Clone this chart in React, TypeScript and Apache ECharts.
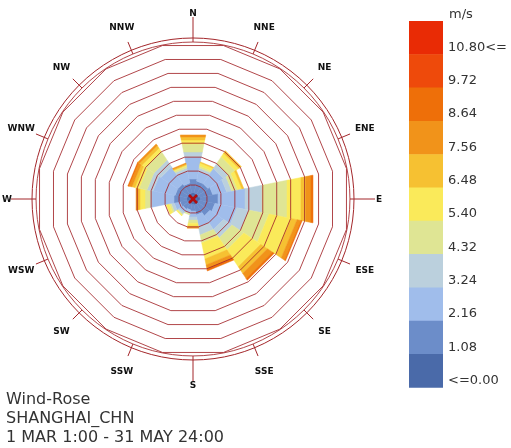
import React, { useEffect, useRef } from "react";
import * as echarts from "echarts";

const directions = ["N", "NNE", "NE", "ENE", "E", "ESE", "SE", "SSE", "S", "SSW", "SW", "WSW", "W", "WNW", "NW", "NNW"];
const speedLabels = ["<=0.00", "1.08", "2.16", "3.24", "4.32", "5.40", "6.48", "7.56", "8.64", "9.72", "10.80<="];
const speedColors = ["#4a6aa9", "#6c8dc9", "#a0bdeb", "#bbd0dd", "#dfe594", "#faea5a", "#f6c132", "#f1931a", "#ee6f09", "#ee4a0b", "#e92b05"];
const unitLabel = "m/s";
const titleLines = ["Wind-Rose", "SHANGHAI_CHN", "1 MAR 1:00 - 31 MAY 24:00"];

// frequency (%) of each speed bin, per direction N..NNW
const bin0 = [0.43, 0.43, 0.43, 0.43, 0.5, 0.43, 0.43, 0.43, 0.36, 0.36, 0.36, 0.36, 0.43, 0.43, 0.43, 0.43];
const bin1 = [1.0, 0.86, 0.86, 1.0, 1.29, 1.15, 1.0, 0.72, 0.5, 0.43, 0.5, 0.57, 0.93, 0.86, 0.86, 0.72];
const bin2 = [1.58, 0.72, 1.29, 1.0, 1.94, 1.58, 1.15, 0.86, 0.43, 0.22, 0.29, 0.43, 1.58, 1.58, 1.43, 0.86];
const bin3 = [0.36, 0.22, 0.43, 0.36, 1.22, 0.86, 0.72, 0.57, 0.22, 0.07, 0.14, 0.22, 0.14, 0.43, 0.57, 0.22];
const bin4 = [0.57, 0.14, 0.57, 0.43, 1.79, 1.43, 1.0, 0.57, 0.22, 0.07, 0.07, 0.14, 0.36, 0.57, 0.72, 0.14];
const bin5 = [0.29, 0.22, 0.29, 0.29, 1.0, 1.58, 1.43, 1.15, 0.22, 0, 0.07, 0.22, 0.36, 0.29, 0.29, 0.07];
const bin6 = [0.22, 0.07, 0.22, 0.14, 0.36, 0.43, 0.57, 0.43, 0.07, 0, 0, 0, 0.14, 0.22, 0.22, 0.07];
const bin7 = [0.14, 0, 0, 0, 0.36, 0.29, 0.43, 0.29, 0.07, 0, 0, 0, 0.14, 0.22, 0.14, 0.07];
const bin8 = [0, 0, 0, 0, 0.14, 0.07, 0.14, 0.14, 0, 0, 0, 0, 0, 0.07, 0, 0];
const bin9 = [0, 0, 0, 0, 0, 0, 0, 0, 0, 0, 0, 0, 0, 0, 0, 0];
const bin10 = [0, 0, 0, 0, 0, 0, 0, 0, 0, 0, 0, 0, 0, 0, 0, 0];
const bins = [bin0, bin1, bin2, bin3, bin4, bin5, bin6, bin7, bin8, bin9, bin10];

const ringValues = [1, 2, 3, 4, 5, 6, 7, 8, 9, 10, 11];
const innerCircle = 11.25;
const radiusMax = 11.54;

const GRID = "#a3262a";
const FONT = '"DejaVu Sans", Verdana, sans-serif';

export default function App() {
  const ref = useRef<HTMLDivElement>(null);
  useEffect(() => {
    if (!ref.current) return;
    const chart = echarts.init(ref.current, undefined, { renderer: "svg" });
    const step = 360 / directions.length;
    const half = step / 2;
    const f = 1 / Math.cos((half * Math.PI) / 180);

    const barData: number[][] = [];
    directions.forEach((_, i) => {
      let cum = 0;
      bins.forEach((b, k) => {
        const v = b[i];
        if (v > 0) {
          barData.push([cum + v, i * step, cum, k]);
          cum += v;
        }
      });
    });

    const graphic: any[] = [];
    const boxTop = 21;
    const boxH = 33.3;
    const n = speedColors.length;
    for (let t = 0; t < n; t++) {
      const k = n - 1 - t;
      graphic.push({
        type: "rect",
        shape: { x: 409, y: boxTop + boxH * t, width: 34, height: boxH + 0.5 },
        style: { fill: speedColors[k] },
      });
      graphic.push({
        type: "text",
        x: 448,
        y: boxTop + boxH * (t + 1) - 8,
        style: { text: speedLabels[k], font: `13px ${FONT}`, fill: "#333", align: "left", verticalAlign: "middle" },
      });
    }
    graphic.push({
      type: "text",
      x: 449,
      y: 13,
      style: { text: unitLabel, font: `13px ${FONT}`, fill: "#333", align: "left", verticalAlign: "middle" },
    });
    titleLines.forEach((t, i) => {
      graphic.push({
        type: "text",
        x: 6,
        y: 398 + 19 * i,
        style: { text: t, font: `16px ${FONT}`, fill: "#333", align: "left", verticalAlign: "middle" },
      });
    });

    const pxUnit = 161 / radiusMax;

    chart.setOption({
      animation: false,
      polar: { center: [193, 199], radius: 161 },
      angleAxis: {
        type: "value",
        min: 0,
        max: 360,
        interval: step,
        startAngle: 90,
        clockwise: true,
        axisLine: { show: true, lineStyle: { color: GRID, width: 1 } },
        axisTick: { show: false },
        axisLabel: { show: false },
        splitLine: { show: false },
      },
      radiusAxis: {
        type: "value",
        min: 0,
        max: radiusMax,
        axisLine: { show: false },
        axisTick: { show: false },
        axisLabel: { show: false },
        splitLine: { show: false },
      },
      graphic,
      series: [
        {
          type: "custom",
          coordinateSystem: "polar",
          z: 2,
          data: barData,
          renderItem: (params: any, api: any) => {
            const r1 = api.value(0);
            const a = api.value(1);
            const r0 = api.value(2);
            const k = api.value(3);
            const pts = [
              api.coord([r0 * f, a - half]),
              api.coord([r1 * f, a - half]),
              api.coord([r1 * f, a + half]),
              api.coord([r0 * f, a + half]),
            ];
            return {
              type: "polygon",
              shape: { points: pts },
              style: { fill: speedColors[k], stroke: speedColors[k], lineWidth: 0.5 },
            };
          },
        },
        {
          type: "custom",
          coordinateSystem: "polar",
          z: 3,
          data: ringValues.map((v) => [v, 0]),
          renderItem: (params: any, api: any) => {
            const v = api.value(0);
            const pts = directions.map((_, j) => api.coord([v * f, half + j * step]));
            return {
              type: "polygon",
              shape: { points: pts },
              style: { fill: "none", stroke: GRID, lineWidth: 1, opacity: 0.85 },
            };
          },
        },
        {
          type: "custom",
          coordinateSystem: "polar",
          z: 3,
          data: [[innerCircle, 0]],
          renderItem: (params: any, api: any) => {
            const c = api.coord([0, 0]);
            const p = api.coord([api.value(0), 0]);
            const r = Math.hypot(p[0] - c[0], p[1] - c[1]);
            return {
              type: "circle",
              shape: { cx: c[0], cy: c[1], r },
              style: { fill: "none", stroke: GRID, lineWidth: 1, opacity: 0.85 },
            };
          },
        },
        {
          type: "custom",
          coordinateSystem: "polar",
          z: 3,
          data: directions.map((_, i) => [(i % 4 === 0 ? 182 : 170) / pxUnit, i * step]),
          renderItem: (params: any, api: any) => {
            const a = api.value(1);
            const p0 = api.coord([157 / pxUnit, a]);
            const p1 = api.coord([api.value(0), a]);
            return {
              type: "line",
              shape: { x1: p0[0], y1: p0[1], x2: p1[0], y2: p1[1] },
              style: { stroke: GRID, lineWidth: 1 },
            };
          },
        },
        {
          type: "custom",
          coordinateSystem: "polar",
          z: 4,
          data: directions.map((_, i) => [186 / pxUnit, i * step, i]),
          renderItem: (params: any, api: any) => {
            const p = api.coord([api.value(0), api.value(1)]);
            return {
              type: "text",
              x: p[0],
              y: p[1],
              style: {
                text: directions[api.value(2)],
                font: `bold 9px ${FONT}`,
                fill: "#111",
                align: "center",
                verticalAlign: "middle",
              },
            };
          },
        },
        {
          type: "custom",
          coordinateSystem: "polar",
          z: 5,
          data: [[0, 0]],
          renderItem: (params: any, api: any) => {
            const c = api.coord([0, 0]);
            const d = 4;
            return {
              type: "group",
              children: [
                { type: "line", shape: { x1: c[0] - d, y1: c[1] - d, x2: c[0] + d, y2: c[1] + d }, style: { stroke: "#b00e0e", lineWidth: 2.5 } },
                { type: "line", shape: { x1: c[0] - d, y1: c[1] + d, x2: c[0] + d, y2: c[1] - d }, style: { stroke: "#b00e0e", lineWidth: 2.5 } },
              ],
            };
          },
        },
      ],
    });
    return () => chart.dispose();
  }, []);
  return <div ref={ref} style={{ position: "fixed", left: 0, top: 0, width: 511, height: 448 }} />;
}
